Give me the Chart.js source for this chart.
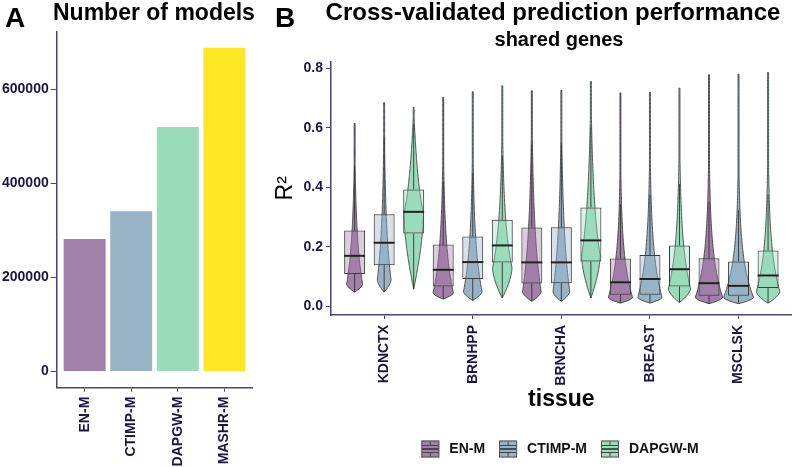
<!DOCTYPE html>
<html>
<head>
<meta charset="utf-8">
<script src="https://cdn.jsdelivr.net/npm/chart.js@4.4.1/dist/chart.umd.min.js"></script>
<style>
  html, body { margin: 0; padding: 0; background: #fff; }
  #wrap { position: relative; width: 800px; height: 467px; }
  #boxA { position: absolute; left: 0; top: 0; width: 270px; height: 467px; }
  #boxB { position: absolute; left: 270px; top: 0; width: 530px; height: 467px; }
</style>
</head>
<body>
<div id="wrap">
  <div id="boxA"><canvas id="chartA"></canvas></div>
  <div id="boxB"><canvas id="chartB"></canvas></div>
</div>
<script>
// panel A data
const modelNames = ['EN-M', 'CTIMP-M', 'DAPGW-M', 'MASHR-M'];
const modelCounts = [282000, 341000, 520000, 688500];
const countTicks = [0, 200000, 400000, 600000];

// panel B data (one row per method, one column per tissue)
const tissues = ['KDNCTX', 'BRNHPP', 'BRNCHA', 'BREAST', 'MSCLSK'];
const methods = ['EN-M', 'CTIMP-M', 'DAPGW-M'];
const r2Ticks = [0, 0.2, 0.4, 0.6, 0.8];
const r2Low = [
  [0.048, 0.025, 0.017, 0.011, 0.009],
  [0.048, 0.020, 0.017, 0.011, 0.009],
  [0.058, 0.028, 0.028, 0.013, 0.011]
];
const r2Q1 = [
  [0.109, 0.067, 0.077, 0.039, 0.036],
  [0.138, 0.092, 0.078, 0.039, 0.036],
  [0.245, 0.148, 0.151, 0.067, 0.062]
];
const r2Median = [
  [0.170, 0.123, 0.148, 0.081, 0.078],
  [0.214, 0.149, 0.148, 0.092, 0.069],
  [0.318, 0.205, 0.222, 0.125, 0.104]
];
const r2Q3 = [
  [0.255, 0.208, 0.265, 0.161, 0.162],
  [0.310, 0.235, 0.266, 0.173, 0.151],
  [0.393, 0.291, 0.333, 0.205, 0.188]
];
const r2High = [
  [0.615, 0.703, 0.725, 0.718, 0.779],
  [0.685, 0.722, 0.727, 0.720, 0.781],
  [0.669, 0.742, 0.756, 0.734, 0.787]
];
// where the density is highest, and how wide the violin is there (in tissue units)
const r2Mode = [
  [0.075, 0.045, 0.050, 0.030, 0.030],
  [0.090, 0.050, 0.050, 0.030, 0.030],
  [0.310, 0.130, 0.170, 0.060, 0.050]
];
const densityPeak = [
  [0.18, 0.23, 0.21, 0.275, 0.31],
  [0.155, 0.21, 0.19, 0.275, 0.34],
  [0.22, 0.22, 0.21, 0.25, 0.265]
];

const FONT = '"Liberation Sans", Arial, sans-serif';
const axisColor = '#4b437c';
const tickColor = '#1b1548';
const viridis = [[68, 1, 84], [49, 104, 142], [53, 183, 121]];
const rgba = (c, a) => `rgba(${c[0]},${c[1]},${c[2]},${a})`;
const washed = c => c.map(v => Math.round(v * 0.5 + 255 * 0.5));

const barColors = [rgba(viridis[0], 0.5), rgba(viridis[1], 0.5), rgba(viridis[2], 0.5), '#fde725'];

function axisOpts(extra) {
  return Object.assign({
    offset: false,
    border: { display: true, color: axisColor, width: 1.5 },
    grid: { display: true, drawOnChartArea: false, drawTicks: true, offset: false, tickLength: 5, color: axisColor, lineWidth: 1 },
  }, extra);
}

// ---------- panel A ----------
const titleA = {
  id: 'titleA',
  afterDraw(chart) {
    const ctx = chart.ctx;
    ctx.save();
    ctx.fillStyle = '#000';
    ctx.textBaseline = 'alphabetic';
    ctx.textAlign = 'left';
    ctx.font = 'bold 28px ' + FONT;
    ctx.fillText('A', 5, 27);
    ctx.font = 'bold 23px ' + FONT;
    ctx.fillText('Number of models', 53, 20);
    ctx.restore();
  }
};

new Chart(document.getElementById('chartA'), {
  type: 'bar',
  data: {
    datasets: [{
      data: modelCounts.map((v, i) => ({ x: i, y: v })),
      backgroundColor: barColors,
      borderWidth: 0,
      barPercentage: 0.9,
      categoryPercentage: 1
    }]
  },
  options: {
    responsive: true,
    maintainAspectRatio: false,
    animation: false,
    layout: { padding: { top: 31.7, right: 17.7, left: 0, bottom: 0 } },
    plugins: { legend: { display: false }, tooltip: { enabled: false } },
    scales: {
      x: axisOpts({
        type: 'linear',
        min: -0.6,
        max: 3.6,
        afterBuildTicks: s => { s.ticks = modelNames.map((n, i) => ({ value: i })); },
        afterFit: s => { s.height = 79.3; },
        grid: { display: true, drawOnChartArea: false, drawTicks: true, offset: false, tickLength: 4, color: axisColor },
        ticks: {
          autoSkip: false, minRotation: 90, maxRotation: 90, padding: 5,
          color: tickColor, font: { family: FONT, size: 14, weight: 'bold' },
          callback: v => modelNames[v]
        }
      }),
      y: axisOpts({
        type: 'linear',
        min: -34400,
        max: 722900,
        afterBuildTicks: s => { s.ticks = countTicks.map(v => ({ value: v })); },
        afterFit: s => { s.width = 56.7; },
        grid: { display: true, drawOnChartArea: false, drawTicks: true, tickLength: 6, color: axisColor },
        ticks: {
          padding: 2, color: tickColor, font: { family: FONT, size: 14, weight: 'bold' },
          callback: v => String(v)
        }
      })
    }
  },
  plugins: [titleA]
});

// ---------- panel B ----------
function halfWidth(j, i, v, peak) {
  const lo = r2Low[j][i], mode = r2Mode[j][i], hi = r2High[j][i];
  const iqr = r2Q3[j][i] - r2Q1[j][i];
  let w;
  if (v <= mode) {
    const t = (mode - v) / (mode - lo);
    w = peak * (1 - Math.pow(Math.min(t, 1), 1.6));
  } else {
    const t = (v - mode) / (hi - mode);
    w = peak * Math.exp(-(v - mode) / (iqr * 1.1)) * (1 - Math.pow(t, 4));
    w = Math.max(w, 0.5);
  }
  return w;
}

const violins = {
  id: 'violins',
  beforeDatasetsDraw(chart) {
    const { ctx, scales: { x, y } } = chart;
    const unit = x.getPixelForValue(1) - x.getPixelForValue(0);
    ctx.save();
    methods.forEach((m, j) => {
      const meta = chart.getDatasetMeta(j);
      tissues.forEach((t, i) => {
        const cx = meta.data[i].x;
        const peak = densityPeak[j][i] * unit / 2;
        const lo = r2Low[j][i], hi = r2High[j][i];
        const n = 160;
        const pts = [];
        for (let k = 0; k <= n; k++) {
          const v = lo + (hi - lo) * k / n;
          pts.push([v, halfWidth(j, i, v, peak)]);
        }
        ctx.beginPath();
        ctx.moveTo(cx, y.getPixelForValue(lo));
        pts.forEach(p => ctx.lineTo(cx + p[1], y.getPixelForValue(p[0])));
        for (let k = pts.length - 1; k >= 0; k--) ctx.lineTo(cx - pts[k][1], y.getPixelForValue(pts[k][0]));
        ctx.closePath();
        ctx.fillStyle = rgba(viridis[j], 0.5);
        ctx.fill();
        ctx.strokeStyle = '#2e2e2e';
        ctx.lineWidth = 0.8;
        ctx.stroke();

        // whiskers
        const q1 = r2Q1[j][i], q3 = r2Q3[j][i];
        const up = Math.min(hi, q3 + 1.5 * (q3 - q1));
        ctx.beginPath();
        ctx.moveTo(cx, y.getPixelForValue(q1));
        ctx.lineTo(cx, y.getPixelForValue(lo));
        ctx.moveTo(cx, y.getPixelForValue(q3));
        ctx.lineTo(cx, y.getPixelForValue(up));
        ctx.strokeStyle = '#333';
        ctx.lineWidth = 0.9;
        ctx.stroke();
      });
    });
    ctx.restore();
  },
  afterDatasetsDraw(chart) {
    const { ctx, scales: { y } } = chart;
    ctx.save();
    methods.forEach((m, j) => {
      const meta = chart.getDatasetMeta(j);
      tissues.forEach((t, i) => {
        const bar = meta.data[i];
        const py = y.getPixelForValue(r2Median[j][i]);
        ctx.beginPath();
        ctx.moveTo(bar.x - bar.width / 2, py);
        ctx.lineTo(bar.x + bar.width / 2, py);
        ctx.strokeStyle = '#222';
        ctx.lineWidth = 2;
        ctx.stroke();
      });
    });
    ctx.restore();
  }
};

const decorB = {
  id: 'decorB',
  afterDraw(chart) {
    const ctx = chart.ctx;
    ctx.save();
    ctx.fillStyle = '#000';
    ctx.textBaseline = 'alphabetic';
    ctx.textAlign = 'left';
    ctx.font = 'bold 28px ' + FONT;
    ctx.fillText('B', 5, 27);
    ctx.textAlign = 'center';
    ctx.font = 'bold 24px ' + FONT;
    ctx.fillText('Cross-validated prediction performance', 283, 20);
    ctx.font = 'bold 20px ' + FONT;
    ctx.fillText('shared genes', 289, 46);

    // legend
    ctx.font = 'bold 14px ' + FONT;
    const icon = 18, gapText = 10, gapItem = 14;
    const widths = methods.map(m => icon + gapText + ctx.measureText(m).width);
    const total = widths.reduce((a, b) => a + b, 0) + gapItem * (methods.length - 1);
    let lx = 290 - total / 2;
    const ly = 440.5;
    methods.forEach((m, j) => {
      ctx.fillStyle = rgba(viridis[j], 0.5);
      ctx.fillRect(lx, ly, icon, 17);
      ctx.strokeStyle = '#555';
      ctx.lineWidth = 1;
      ctx.strokeRect(lx + 0.5, ly + 0.5, icon - 1, 16);
      ctx.beginPath();
      ctx.moveTo(lx + 1, ly + 5); ctx.lineTo(lx + icon - 1, ly + 5);
      ctx.moveTo(lx + 1, ly + 12); ctx.lineTo(lx + icon - 1, ly + 12);
      ctx.moveTo(lx + icon / 2, ly + 1); ctx.lineTo(lx + icon / 2, ly + 5);
      ctx.moveTo(lx + icon / 2, ly + 12); ctx.lineTo(lx + icon / 2, ly + 16);
      ctx.strokeStyle = '#444';
      ctx.stroke();
      ctx.beginPath();
      ctx.moveTo(lx + 1, ly + 8.5); ctx.lineTo(lx + icon - 1, ly + 8.5);
      ctx.lineWidth = 1.6;
      ctx.strokeStyle = '#333';
      ctx.stroke();
      ctx.fillStyle = '#111';
      ctx.textAlign = 'left';
      ctx.textBaseline = 'middle';
      ctx.fillText(m, lx + icon + gapText, ly + 9);
      lx += widths[j] + gapItem;
    });
    ctx.restore();
  }
};

new Chart(document.getElementById('chartB'), {
  type: 'bar',
  data: {
    datasets: methods.map((m, j) => ({
      label: m,
      data: tissues.map((t, i) => ({ x: i, y: [r2Q1[j][i], r2Q3[j][i]] })),
      backgroundColor: rgba(washed(viridis[j]), 0.4),
      borderColor: '#3d3d3d',
      borderWidth: 1,
      borderSkipped: false,
      barPercentage: 0.71,
      categoryPercentage: 1
    }))
  },
  options: {
    responsive: true,
    maintainAspectRatio: false,
    animation: false,
    layout: { padding: { top: 61.7, right: 8.3, left: 2.2, bottom: 53.2 } },
    plugins: { legend: { display: false }, tooltip: { enabled: false } },
    scales: {
      x: axisOpts({
        type: 'linear',
        min: -0.6,
        max: 4.6,
        afterBuildTicks: s => { s.ticks = tissues.map((t, i) => ({ value: i })); },
        afterFit: s => { s.height = 98.8; },
        grid: { display: true, drawOnChartArea: false, drawTicks: true, offset: false, tickLength: 4, color: axisColor },
        ticks: {
          autoSkip: false, minRotation: 90, maxRotation: 90, padding: 6,
          color: tickColor, font: { family: FONT, size: 14, weight: 'bold' },
          callback: v => tissues[v]
        },
        title: { display: true, text: 'tissue', color: '#000', padding: 0, font: { family: FONT, size: 23, weight: 'bold' } }
      }),
      y: axisOpts({
        type: 'linear',
        min: -0.029,
        max: 0.823,
        afterBuildTicks: s => { s.ticks = r2Ticks.map(v => ({ value: v })); },
        afterFit: s => { s.width = 58.8; },
        grid: { display: true, drawOnChartArea: false, drawTicks: true, tickLength: 5, color: axisColor },
        ticks: {
          padding: 3, color: tickColor, font: { family: FONT, size: 14, weight: 'bold' },
          callback: v => v.toFixed(1)
        },
        title: { display: true, text: 'R²', color: '#000', padding: 0, font: { family: FONT, size: 23, weight: 'normal' } }
      })
    }
  },
  plugins: [violins, decorB]
});
</script>
</body>
</html>
